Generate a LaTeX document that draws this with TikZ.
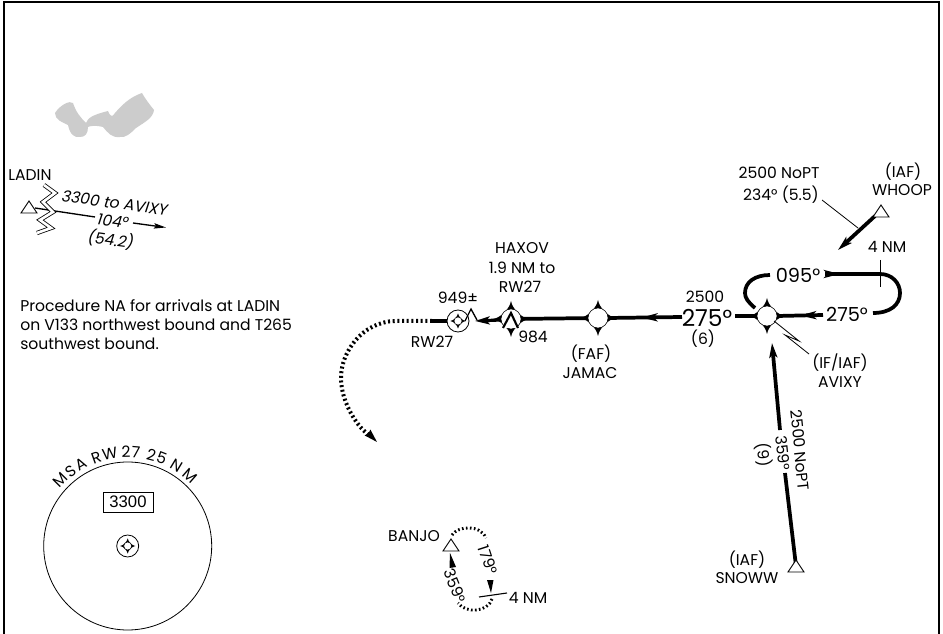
\documentclass[tikz,border=0pt]{standalone}
\usepackage{fontspec}
\setmainfont{Poppins}
\newfontfamily\helv{Liberation Sans}
\usetikzlibrary{arrows.meta,decorations.markings,calc}
\tikzset{
  lbl/.style={inner sep=0pt,font=\fontsize{11.7}{13}\selectfont},
  lblit/.style={inner sep=0pt,rotate=-8,font=\fontsize{11.7}{13}\itshape},
  big/.style={inner sep=0pt,font=\fontsize{14.5}{16}\selectfont},
  huge275/.style={inner sep=0pt,font=\fontsize{17.5}{19}\selectfont},
  thinline/.style={line width=.6pt,black},
  route/.style={line width=2.8pt,black},
  banjodots/.style={line width=2.2pt,black,dash pattern=on 1.2pt off 1.8pt},
  approachdots/.style={line width=3pt,black,dash pattern=on 1.5pt off 2pt},
  tip/.style={-{Stealth[length=11pt,width=6pt,inset=2.5pt]}},
  tipthin/.style={-{Stealth[length=9pt,width=4pt,inset=1.5pt]}},
  midtip/.style={postaction={decorate},decoration={markings,mark=at position #1 with {\arrow{Stealth[length=12pt,width=6pt,inset=3pt]}}}},
  fixnode/.style={circle,draw=black,line width=.4pt,fill=white,minimum size=15pt,inner sep=0pt},
  smallfix/.style={circle,draw=black,line width=.4pt,fill=white,minimum size=6pt,inner sep=0pt},
  navring/.style={circle,draw=black,line width=.6pt,fill=white,minimum size=16.5pt,inner sep=0pt},
}
\newcommand{\fixstar}[2]{\fill[black,shift={(#1)},scale=#2] (0,-18) .. controls (1.5,-10) and (10,-1.5) .. (18,0) .. controls (10,1.5) and (1.5,10) .. (0,18) .. controls (-1.5,10) and (-10,1.5) .. (-18,0) .. controls (-10,-1.5) and (-1.5,-10) .. cycle;}
\newcommand{\fixtri}[1]{\draw[black,line width=.7pt,fill=white,shift={(#1)}] (0,-6) -- (8,6) -- (-8,6) -- cycle;}
\begin{document}
\begin{tikzpicture}[x=.75pt,y=-.75pt]
\useasboundingbox (0,0) rectangle (943,634);
\fill[white] (0,0) rectangle (943,634);
\draw[line width=2.2pt] (4,634) -- (4,2) -- (939,2) -- (939,634);
% lake
\fill[black!20] (55,113) .. controls (60,105) and (70,100) .. (73,103) .. controls (76,112) and (80,117) .. (86,123) .. controls (88,118) and (92,115) .. (108,111) .. controls (110,116) and (112,118) .. (115,113) .. controls (122,105) and (130,97) .. (142,93) .. controls (146,100) and (150,105) .. (154,110) .. controls (153,118) and (145,122) .. (136,128) .. controls (130,134) and (125,138) .. (120,137) .. controls (112,138) and (108,133) .. (103,127) .. controls (95,125) and (90,126) .. (88,127) .. controls (88,134) and (85,137) .. (80,137) .. controls (75,138) and (70,135) .. (68,125) .. controls (62,122) and (55,120) .. (55,113) -- cycle;
% LADIN
\node[lbl] (ladin) at (30,175) {LADIN};
\coordinate (ladtri) at (29,207);
\coordinate (ladA) at (35,208);
\coordinate (ladB) at (95,217);
\coordinate (ladC) at (133,223);
\coordinate (ladD) at (166,227.5);
\draw[thinline,line width=1pt] (ladA) -- (ladB);
\draw[thinline,line width=1pt,tipthin] (ladC) -- (ladD);
\fixtri{ladtri}
\draw[black,line width=.6pt,double=white,double distance=2pt] (44,185) -- (55,193) -- (43,202) -- (53,212) -- (40,220) -- (51,228) -- (37,233);
\node[lblit] (l3300) at (115,203) {3300 to AVIXY};
\node[lblit] (l104) at (113,221) {104°};
\node[lblit] (l542) at (111,240) {(54.2)};
% note
\node[lbl,anchor=west] (n1) at (20,306) {Procedure NA for arrivals at LADIN};
\node[lbl,anchor=west] (n2) at (20,325) {on V133 northwest bound and T265};
\node[lbl,anchor=west] (n3) at (20,344) {southwest bound.};
% MSA
\node[circle,draw=black,line width=.6pt,minimum size=126pt,inner sep=0pt] (msa) at (127.7,546) {};
\foreach \l/\a in {M/135.4,S/127,A/120,R/109.6,W/101,2/91,7/85,2/75.4,5/68.8,N/58.8,M/48.7}{
  \node[lbl,rotate=\a-90] at ($(127.7,546)+(-\a:94)$) {\l};
}
\node[draw=black,line width=.6pt,minimum width=37.5pt,minimum height=15pt,inner sep=0pt,font=\helv\fontsize{12.5}{14}\selectfont] (msaalt) at (128,502) {3300};
\node[navring] (msactr) at (127.7,546) {};
\fixstar{127.7,546}{.42}
\node[smallfix] (msadot) at (127.7,546) {};
% main route coordinates
\coordinate (rwend) at (432,321);
\coordinate (rwpt) at (458,321);
\coordinate (obstip) at (475,321);
\coordinate (bar275L) at (682,317);
\coordinate (bar275R) at (735,316);
% route lines
\draw[approachdots] (rwend) -- (395,321) .. controls (362,322) and (341,352) .. (341,378) .. controls (341,400) and (355,425) .. (369,435);
\coordinate (dottip0) at (368,433);
\coordinate (dottip) at (377,442);
\draw[line width=1pt,-{Stealth[length=10pt,width=6pt,inset=1pt]}] (dottip0) -- (dottip);
\draw[route] (rwend) -- (rwpt);
\node[navring] (rw27) at (rwpt) {};
\fixstar{rwpt}{.42}
\node[smallfix] (rwdot) at (rwpt) {};
\draw[route,line width=2.4pt,tip] (500,320) -- (obstip);
\draw[black,line width=1pt,line join=miter] (465,321) -- (471,309) -- (477,320);
\fixstar{511,319}{1}
\fixstar{598,318}{1}
\fixstar{767,316}{1}
\node[fixnode] (haxov) at (511,319) {};
\node[fixnode] (jamac) at (598,318) {};
\node[fixnode] (avixy) at (767,316) {};
\draw[black,line width=1.6pt,fill=white,line join=miter] (503,328) -- (511,313) -- (518,328);
\draw[route] (haxov) -- (jamac);
\draw[route,midtip=.55] (bar275L) -- (jamac.east);
\draw[route] (bar275R) -- (avixy.west);
% hold
\coordinate (h275a) at (873,313);
\coordinate (h275b) at (823,315);
\coordinate (h095a) at (770,275);
\coordinate (h095b) at (825,274);
\draw[route,midtip=.5] (h275b) -- (avixy.east);
\draw[route,midtip=.12] (h095b) -- (880,274) .. controls (892,274) and (900,283) .. (900,293) .. controls (900,305) and (890,313) .. (h275a);
\draw[route] (755,308) .. controls (748,302) and (745,298) .. (745,293) .. controls (745,282) and (755,275) .. (h095a);
\draw[thinline] (880,260) -- (880,287);
% whoop
\coordinate (whooptri) at (881,211);
\coordinate (whoopend) at (838,250);
\draw[route,tip] (875,216) -- (whoopend);
\fixtri{whooptri}
\coordinate (wl1) at (822,200);
\coordinate (wl2) at (858,228);
\draw[thinline] (wl1) -- (wl2);
% snoww
\coordinate (snowtri) at (796,566);
\coordinate (sn1) at (785,473);
\coordinate (sn2) at (780,430);
\coordinate (sn3) at (772,343);
\draw[route] (snowtri) -- (sn1);
\draw[route,tip] (sn2) -- (sn3);
\fixtri{snowtri}
% avixy leader
\draw[thinline] (774,321) -- (799,341) -- (785,335) -- (809,354);
% labels
\node[lbl] (lw1) at (903,172) {(IAF)};
\node[lbl] (lw2) at (902,190) {WHOOP};
\node[lbl] (lw3) at (779,173) {2500 NoPT};
\node[lbl] (lw4) at (781,195) {234° (5.5)};
\node[lbl] (l4nm) at (887,247) {4 NM};
\node[big] (l095) at (798,275) {095°};
\node[big] (l275b) at (847,314) {275°};
\node[lbl] (l2500) at (705,297) {2500};
\node[huge275] (l275) at (707,318) {275°};
\node[lbl] (l6) at (703,339) {(6)};
\node[lbl] (la1) at (840,363) {(IF/IAF)};
\node[lbl] (la2) at (840,382) {AVIXY};
\node[lbl,rotate=-84] (ls1) at (800,450) {2500 NoPT};
\node[lbl,rotate=-84] (ls2) at (783,453) {359°};
\node[lbl,rotate=-84] (ls3) at (764,455) {(9)};
\node[lbl] (ls4) at (747,560) {(IAF)};
\node[lbl] (ls5) at (747,578) {SNOWW};
\node[lbl] (lh1) at (522,248) {HAXOV};
\node[lbl] (lh2) at (522,268) {1.9 NM to};
\node[lbl] (lh3) at (520,287) {RW27};
\node[lbl] (l949) at (458,298) {949±};
\node[lbl] (lrw) at (432,342) {RW27};
\node[lbl] (l984) at (533,337) {984};
\node[lbl] (lj1) at (591,354) {(FAF)};
\node[lbl] (lj2) at (590,373) {JAMAC};
% banjo
\coordinate (banjotri) at (451,545);
\coordinate (b1) at (452,535);
\coordinate (b3) at (458,603);
\draw[banjodots] (b1) .. controls (458,526) and (480,524) .. (486,538);
\draw[banjodots] (492,599) .. controls (488,612) and (466,614) .. (b3);
\fixtri{banjotri}
\fill (491,593) -- (487,580) -- (493.5,580) -- cycle;
\fill (450,553) -- (456,567) -- (449.5,568) -- cycle;
\draw[thinline,line width=.8pt] (479,597) -- (507,593);
\node[lbl] (lb1) at (414,536) {BANJO};
\node[lbl] (lb2) at (528,598) {4 NM};
\node[lbl,rotate=-72] (lb3) at (488,560) {179°};
\node[lbl,rotate=-68] (lb4) at (455,586) {359°};
\end{tikzpicture}
\end{document}
